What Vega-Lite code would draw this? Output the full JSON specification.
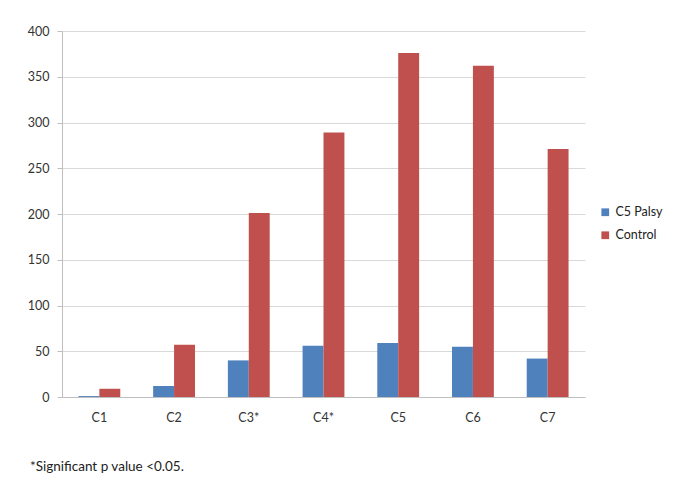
{
  "$schema": "https://vega.github.io/schema/vega-lite/v6.json",
  "autosize": "none",
  "width": 523,
  "height": 366,
  "padding": {"left": 62, "top": 31, "right": 95, "bottom": 86},
  "background": "white",
  "config": {
    "font": "Lato",
    "view": {"stroke": null},
    "axis": {"labelFont": "Lato", "labelColor": "#333333", "labelFontSize": 12.5}
  },
  "title": {
    "text": "*Significant p value <0.05.",
    "orient": "bottom",
    "anchor": "start",
    "frame": "group",
    "dx": -32,
    "offset": 36,
    "fontSize": 13.5,
    "fontWeight": "normal",
    "font": "Lato",
    "color": "#222222"
  },
  "data": {
    "values": [
      {"level": "C1", "group": "C5 Palsy", "value": 1},
      {"level": "C1", "group": "Control", "value": 9},
      {"level": "C2", "group": "C5 Palsy", "value": 12},
      {"level": "C2", "group": "Control", "value": 57},
      {"level": "C3*", "group": "C5 Palsy", "value": 40},
      {"level": "C3*", "group": "Control", "value": 201},
      {"level": "C4*", "group": "C5 Palsy", "value": 56},
      {"level": "C4*", "group": "Control", "value": 289},
      {"level": "C5", "group": "C5 Palsy", "value": 59},
      {"level": "C5", "group": "Control", "value": 376},
      {"level": "C6", "group": "C5 Palsy", "value": 55},
      {"level": "C6", "group": "Control", "value": 362},
      {"level": "C7", "group": "C5 Palsy", "value": 42},
      {"level": "C7", "group": "Control", "value": 271}
    ]
  },
  "mark": {"type": "bar"},
  "encoding": {
    "x": {
      "field": "level",
      "type": "nominal",
      "sort": null,
      "title": null,
      "scale": {"paddingInner": 0.44, "paddingOuter": 0.22},
      "axis": {"labelAngle": 0, "domainColor": "#BFBFBF", "ticks": false, "labelPadding": 14}
    },
    "xOffset": {"field": "group", "type": "nominal", "sort": ["C5 Palsy", "Control"]},
    "y": {
      "field": "value",
      "type": "quantitative",
      "title": null,
      "scale": {"domain": [0, 400]},
      "axis": {
        "values": [0, 50, 100, 150, 200, 250, 300, 350, 400],
        "gridColor": "#D9D9D9",
        "domainColor": "#BFBFBF",
        "tickColor": "#BFBFBF",
        "tickSize": 5,
        "labelPadding": 8
      }
    },
    "color": {
      "field": "group",
      "type": "nominal",
      "sort": ["C5 Palsy", "Control"],
      "scale": {"domain": ["C5 Palsy", "Control"], "range": ["#4F81BD", "#C0504D"]},
      "legend": {
        "title": null,
        "orient": "none",
        "legendX": 537,
        "legendY": 175,
        "symbolType": "square",
        "symbolSize": 60,
        "labelFontSize": 12.5,
        "labelFont": "Lato",
        "labelColor": "#222222",
        "rowPadding": 10
      }
    }
  }
}
